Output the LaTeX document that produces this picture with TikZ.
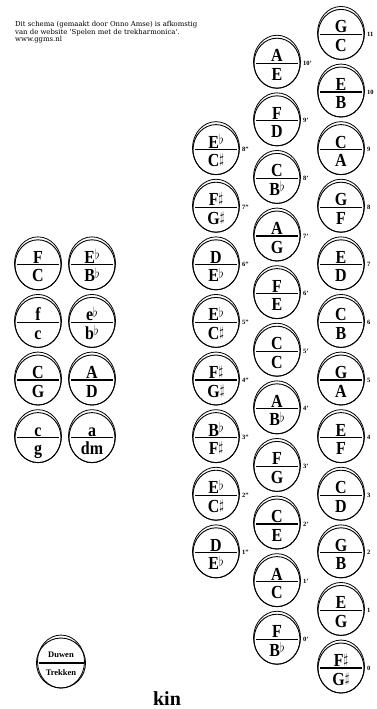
\documentclass[tikz,border=0pt]{standalone}
\usepackage{fontspec}
\usepackage{graphicx}
\setmainfont{Liberation Serif}
\newfontfamily\kopfont{DejaVu Serif}
\usetikzlibrary{shapes.geometric}

\newcommand{\knop}[2]{\makebox[0pt]{\raisebox{1.5pt}[0pt][0pt]{\scalebox{1}[1.15]{#1}}}\makebox[0pt]{\raisebox{-17pt}[0pt][0pt]{\scalebox{1}[1.15]{#2}}}}
\newcommand{\mol}{\raisebox{3pt}{\scalebox{.7}{$\flat$}}}
\newcommand{\kruis}{\raisebox{2.5pt}{\scalebox{.7}{$\sharp$}}}

\begin{document}
\begin{tikzpicture}[x=1pt, y=-1pt,
    knop/.style={ellipse, draw, line width=0.9pt, minimum width=46pt, minimum height=50pt, inner sep=0pt,
        font=\fontsize{16}{16}\selectfont\bfseries,
        path picture={\draw[line width=1.2pt] ([xshift=2pt]path picture bounding box.west) -- ([xshift=-2pt]path picture bounding box.east);},
        label={[rand]below:{}}},
    rand/.style={ellipse, draw, line width=0.8pt, minimum width=47pt, minimum height=53pt, inner sep=0pt, anchor=south},
    nummer/.style={font=\fontsize{6.5}{7}\selectfont\bfseries, inner sep=0pt, xshift=2.5pt},
    legenda/.style={knop, minimum width=49pt, font=\fontsize{8.5}{9}\selectfont\bfseries},
    kop/.style={font=\kopfont\fontsize{6.9}{7.5}\selectfont, align=left, inner sep=0pt},
    titel/.style={font=\fontsize{20}{20}\selectfont\bfseries, inner sep=0pt}
]
\useasboundingbox (0,0) rectangle (377,709);

% Kop
\node[kop, anchor=north west] (kop) at (15,21.5) {Dit schema (gemaakt door Onno Amse) is afkomstig\\van de website 'Spelen met de trekharmonica'.\\www.ggms.nl};

% Rechterrij
\node[knop, label={[nummer]right:11}] (r11) at (341,34.4) {\knop{G}{C}};
\node[knop, label={[nummer]right:10}] (r10) at (341,92) {\knop{E}{B}};
\node[knop, label={[nummer]right:9}] (r9) at (341,149.6) {\knop{C}{A}};
\node[knop, label={[nummer]right:8}] (r8) at (341,207.2) {\knop{G}{F}};
\node[knop, label={[nummer]right:7}] (r7) at (341,264.8) {\knop{E}{D}};
\node[knop, label={[nummer]right:6}] (r6) at (341,322.4) {\knop{C}{B}};
\node[knop, label={[nummer]right:5}] (r5) at (341,380) {\knop{G}{A}};
\node[knop, label={[nummer]right:4}] (r4) at (341,437.6) {\knop{E}{F}};
\node[knop, label={[nummer]right:3}] (r3) at (341,495.2) {\knop{C}{D}};
\node[knop, label={[nummer]right:2}] (r2) at (341,552.8) {\knop{G}{B}};
\node[knop, label={[nummer]right:1}] (r1) at (341,610.4) {\knop{E}{G}};
\node[knop, label={[nummer]right:0}] (r0) at (341,668) {\knop{F\kruis}{G\kruis}};

% Middenrij
\node[knop, label={[nummer]right:10'}] (m10) at (277,63.2) {\knop{A}{E}};
\node[knop, label={[nummer]right:9'}] (m9) at (277,120.8) {\knop{F}{D}};
\node[knop, label={[nummer]right:8'}] (m8) at (277,178.4) {\knop{C}{B\mol}};
\node[knop, label={[nummer]right:7'}] (m7) at (277,236) {\knop{A}{G}};
\node[knop, label={[nummer]right:6'}] (m6) at (277,293.6) {\knop{F}{E}};
\node[knop, label={[nummer]right:5'}] (m5) at (277,351.2) {\knop{C}{C}};
\node[knop, label={[nummer]right:4'}] (m4) at (277,408.8) {\knop{A}{B\mol}};
\node[knop, label={[nummer]right:3'}] (m3) at (277,466.4) {\knop{F}{G}};
\node[knop, label={[nummer]right:2'}] (m2) at (277,524) {\knop{C}{E}};
\node[knop, label={[nummer]right:1'}] (m1) at (277,581.6) {\knop{A}{C}};
\node[knop, label={[nummer]right:0'}] (m0) at (277,639.2) {\knop{F}{B\mol}};

% Linkerrij
\node[knop, label={[nummer]right:8''}] (l8) at (216,149.6) {\knop{E\mol}{C\kruis}};
\node[knop, label={[nummer]right:7''}] (l7) at (216,207.2) {\knop{F\kruis}{G\kruis}};
\node[knop, label={[nummer]right:6''}] (l6) at (216,264.8) {\knop{D}{E\mol}};
\node[knop, label={[nummer]right:5''}] (l5) at (216,322.4) {\knop{E\mol}{C\kruis}};
\node[knop, label={[nummer]right:4''}] (l4) at (216,380) {\knop{F\kruis}{G\kruis}};
\node[knop, label={[nummer]right:3''}] (l3) at (216,437.6) {\knop{B\mol}{F\kruis}};
\node[knop, label={[nummer]right:2''}] (l2) at (216,495.2) {\knop{E\mol}{C\kruis}};
\node[knop, label={[nummer]right:1''}] (l1) at (216,552.8) {\knop{D}{E\mol}};

% Bassen
\node[knop] (b1) at (38,264.8) {\knop{F}{C}};
\node[knop] (b2) at (92,264.8) {\knop{E\mol}{B\mol}};
\node[knop] (b3) at (38,322.4) {\knop{f}{c}};
\node[knop] (b4) at (92,322.4) {\knop{e\mol}{b\mol}};
\node[knop] (b5) at (38,380) {\knop{C}{G}};
\node[knop] (b6) at (92,380) {\knop{A}{D}};
\node[knop] (b7) at (38,437.6) {\knop{c}{g}};
\node[knop] (b8) at (92,437.6) {\knop{a}{dm}};

% Legenda
\node[legenda] (legenda) at (61,663) {\makebox[0pt]{\raisebox{5.5pt}[0pt][0pt]{Duwen}}\makebox[0pt]{\raisebox{-12.5pt}[0pt][0pt]{Trekken}}};

\node[titel, anchor=base] (kin) at (167,705) {kin};
\end{tikzpicture}
\end{document}
